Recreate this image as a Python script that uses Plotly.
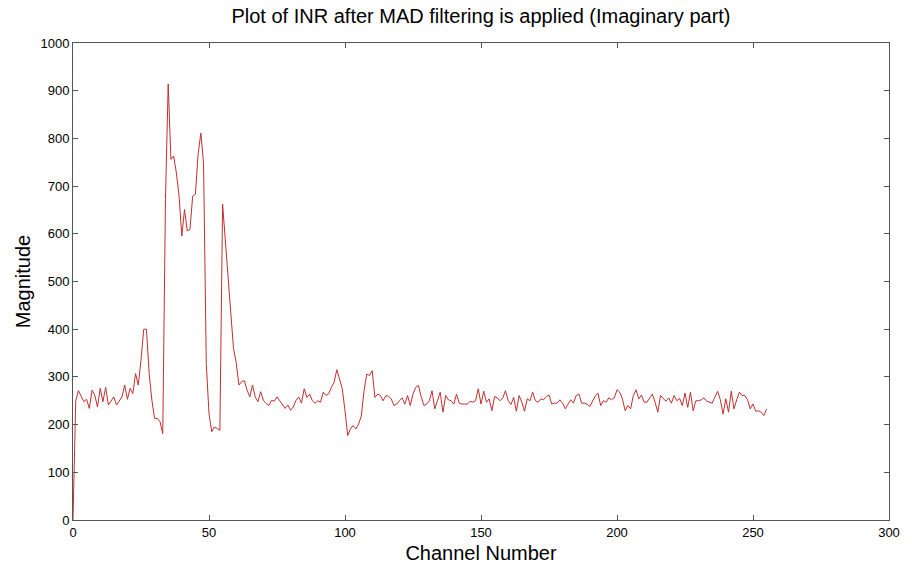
import plotly.graph_objects as go

# Magnitude values per channel
magnitude = [
    0, 250, 271, 258, 248, 253, 234, 272, 262, 237,
    276, 248, 278, 241, 250, 258, 241, 250, 258, 283,
    253, 276, 265, 307, 283, 335, 400, 400, 307, 251,
    213, 213, 206, 181, 672, 914, 756, 763, 728, 679,
    595, 651, 606, 609, 679, 683, 767, 811, 749, 328,
    223, 185, 195, 192, 188, 662, 590, 500, 440, 360,
    330, 283, 290, 292, 272, 258, 283, 258, 248, 269,
    251, 244, 240, 251, 249, 258, 250, 241, 234, 241,
    230, 237, 251, 258, 245, 275, 257, 264, 250, 245,
    250, 247, 268, 261, 265, 278, 289, 315, 295, 275,
    229, 177, 191, 198, 191, 201, 218, 271, 306, 303,
    313, 257, 264, 261, 250, 261, 259, 254, 240, 243,
    250, 256, 243, 261, 240, 264, 278, 282, 259, 240,
    243, 250, 271, 233, 250, 268, 226, 261, 252, 250,
    243, 264, 245, 243, 243, 243, 249, 247, 250, 275,
    243, 270, 247, 254, 229, 259, 256, 250, 256, 271,
    250, 242, 257, 228, 261, 247, 228, 254, 250, 268,
    250, 247, 254, 252, 259, 262, 243, 245, 245, 252,
    245, 233, 243, 252, 245, 261, 264, 245, 245, 243,
    238, 250, 260, 266, 240, 250, 247, 256, 252, 256,
    273, 268, 254, 229, 240, 233, 261, 273, 254, 262,
    247, 247, 255, 264, 247, 226, 261, 256, 249, 256,
    245, 261, 250, 255, 240, 266, 236, 268, 229, 250,
    250, 252, 256, 249, 247, 245, 258, 270, 252, 222,
    254, 226, 270, 233, 252, 268, 261, 261, 252, 233,
    243, 228, 229, 226, 219, 233,
]
channels = list(range(len(magnitude)))

x_ticks = [0, 50, 100, 150, 200, 250, 300]
y_ticks = [0, 100, 200, 300, 400, 500, 600, 700, 800, 900, 1000]

title_text = "Plot of INR after MAD filtering is applied (Imaginary part)"
x_title = "Channel Number"
y_title = "Magnitude"

FONT = "Liberation Sans"

fig = go.Figure()
fig.add_trace(go.Scatter(
    x=channels, y=magnitude, mode="lines",
    line=dict(color="#c42e2e", width=1),
    showlegend=False,
))

axis_common = dict(
    showgrid=False, zeroline=False,
    showline=True, linecolor="#555555", linewidth=1, mirror="allticks",
    ticks="inside", ticklen=5, tickcolor="#555555", tickwidth=1,
    tickfont=dict(family=FONT, size=13, color="black"),
)

fig.update_layout(
    width=912, height=573,
    margin=dict(l=73, r=14, t=43, b=53),
    paper_bgcolor="white", plot_bgcolor="white",
    title=dict(text=title_text, x=0.5, xref="paper", xanchor="center",
               y=0.985, yref="container", yanchor="top",
               font=dict(family=FONT, size=20, color="black")),
    xaxis=dict(range=[0, 300], tickvals=x_ticks, ticktext=[str(v) for v in x_ticks],
               title=dict(text=x_title, font=dict(family=FONT, size=20, color="black"), standoff=7),
               **axis_common),
    yaxis=dict(range=[0, 1000], tickvals=y_ticks, ticktext=[str(v) for v in y_ticks],
               title=dict(text=y_title, font=dict(family=FONT, size=20, color="black"), standoff=4),
               **axis_common),
)

fig.write_html("out.html")
